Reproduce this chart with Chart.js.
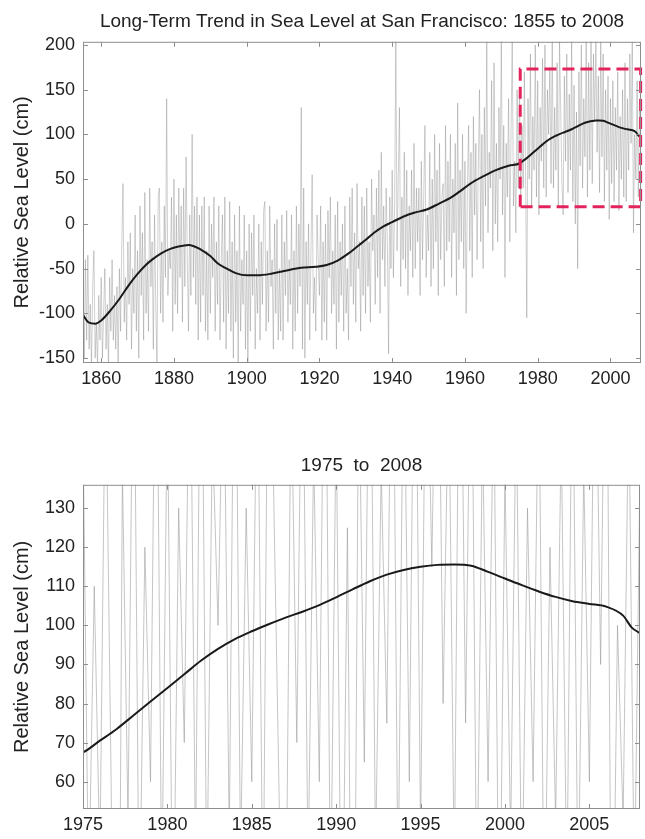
<!DOCTYPE html>
<html>
<head>
<meta charset="utf-8">
<script src="https://cdn.jsdelivr.net/npm/chart.js@4.4.1/dist/chart.umd.min.js"></script>
<style>
  html, body { margin: 0; padding: 0; background: #fff; }
  .panel { position: relative; width: 645px; }
</style>
</head>
<body>
<div class="panel" style="height:400px"><canvas id="longChart"></canvas></div>
<div class="panel" style="height:20px"></div>
<div class="panel" style="height:419px"><canvas id="recentChart"></canvas></div>
<script>
// Gauge readings, three samples a year starting in 1855.
const sampleStart = 1855;
const samplesPerYear = 3;

const seaLevel1855 = [
  -60, -150, -40,   -130, -35, -140,  -90, -160, -70,   -30, -150, -110,  -160, -80, -130,
  -60, -150, -100,  -50, -140, -90,   -160, -60, -120,  -40, -130, -80,   -140, -70, -160,
  -50, -120, -20,   45, -110, -60,    -130, -20, -90,   -10, -140, -50,   -100, 10, -120,
  -30, -150, 20,    -80, -10, -130,   35, -100, -40,    -120, 40, -70,    -20, -140, 10,
  -90, -160, 30,    40, -100, -20,    -110, 20, -60,    140, -80, -30,    -50, 30, -120,
  50, -90, 10,      -100, 40, -60,    20, -110, 40,     -70, 75, -40,     -120, 10, -80,
  100, -60, 20,     -90, 30, -130,    10, -110, 20,     -80, 30, -120,    -30, -130, 20,
  -100, 0, -60,     30, -120, -20,    -90, 20, -130,    -40, 10, -110,    30, -140, -30,
  -100, 25, -120,   -20, -150, 10,    -110, -30, -160,  20, -120, -40,    -90, 10, -140
];
const seaLevel1900 = [
  -30, -160, 0,     -120, -10, -80,   10, -140, -50,    -100, 0, -130,    -20, -90, 15,
  25, -120, -30,    -110, 20, -70,    -40, -140, 0,     -100, 5, -130,    -50, -120, 10,
  -130, -20, -80,   15, -110, -40,    -90, 10, -140,    -30, -120, 20,    -100, 0, -70,
  130, -140, 40,    -150, -20, -90,   0, -130, -30,     55, -100, -60,    -120, 10, -40,
  -80, 20, -130,    -20, -110, 0,     -130, 15, -60,    30, -100, -30,    -90, 10, -140,
  25, -110, -20,    -80, 0, -120,     20, -100, -50,    -130, 30, -70,    40, -90, -10,
  -110, 45, -50,    -20, -120, 30,    -80, 20, -100,    40, -70, -20,     -110, 50, -30,
  10, -90, 40,      -60, 60, -100,    80, -40, 20,      -70, 40, -20,     -145, 30, -50,
  60, -60, 20,      205, -30, 50,     130, -70, 30,     -40, 80, -50,     60, -80, 20,
  -30, 60, -60,     90, -50, 40,      -20, 40, -80,     70, -40, 30,      110, -60, 10
];
const seaLevel1950 = [
  -30, 80, -70,     50, -50, 100,     -20, 60, -80,     90, -40, 30,      45, -70, 110,
  -30, 70, -20,     100, -60, 50,     -10, 90, -80,     135, -40, 60,     -20, 100, -50,
  70, -100, 40,     110, -30, 80,     -60, 120, 10,     90, -40, 60,      150, -20, 100,
  -50, 130, 20,     205, -10, 80,     40, 160, -30,     180, 0, 90,       -20, 130, 50,
  205, 10, 110,     -60, 90, 30,      140, -20, 100,    205, 20, 70,      -10, 150, 40,
  150, 30, 110,     40, 170, 60,      -105, 140, 50,    190, 20, 120,     60, 200, 30,
  160, 10, 130,     70, 185, 40,      200, 30, 150,     100, 175, 45,     205, 40, 130,
  60, 180, 20,      205, 125, 45,     10, 165, 70,      190, 35, 145,     60, 205, 25,
  155, 0, 125,      -50, 170, 65,     200, 40, 140,     75, 205, 30,      180, 60, 205,
  45, 190, 115,     205, 80, 165,     35, 205, 75,      190, 25, 150,     60, 165, 5,
  140, 45, 160,     25, 130, 60,      170, 15, 120,     50, 150, 30,      180, 25, 140,
  60, 190, 90,      205, -10, 100,    50, 160, 30,      140, 80
];

// Smoothed long-term trend (black curve).
const trendYears = [
  1855, 1856.5, 1858.5, 1860, 1862.5, 1865, 1867.5, 1870, 1872, 1874, 1876.5, 1879, 1881, 1884,
  1887.5, 1890, 1892, 1894.5, 1897, 1900, 1903, 1907, 1911, 1915, 1919, 1922, 1925, 1928,
  1930.5, 1933, 1935, 1937.5, 1940, 1943, 1946, 1949.5, 1953, 1956, 1958.5, 1961.5, 1965,
  1968.5, 1972, 1975, 1976, 1977, 1978, 1979, 1980, 1981, 1982, 1983, 1984, 1985, 1986, 1987,
  1988, 1989, 1990, 1991, 1992, 1993, 1994, 1995, 1996, 1997, 1998, 1999, 2000, 2001, 2002,
  2003, 2004, 2005, 2006, 2007, 2007.5, 2008
];
const trendLevel = [
  -102, -110, -111.5, -108, -97, -84, -69, -56, -47, -40, -33, -28, -25.5, -23.5,
  -29, -36, -44, -50, -55, -57.5, -57.5, -55.5, -52, -49, -48, -46, -41, -33,
  -25, -17, -10, -3, 2, 8, 12.5, 16, 23, 29, 36, 45, 53,
  60, 65, 67.5, 70.5, 73.5, 77, 80.5, 84, 87.5, 91, 94, 96.5, 98.5, 100.3, 102,
  103.5, 105.2, 107.2, 109.3, 111.3, 113, 114.2, 115, 115.5, 115.6, 115.3, 113.7, 112, 110.3, 108.7,
  107.3, 106.2, 105.5, 104.8, 102.5, 99.5, 98
];

// Dashed box marking the zoomed period.
const boxYears = [1975.2, 1975.2, 2008.3, 2008.3, 1975.2];
const boxLevel = [19, 173, 173, 19, 19];

const longXTicks = [1860, 1880, 1900, 1920, 1940, 1960, 1980, 2000];
const longYTicks = [-150, -100, -50, 0, 50, 100, 150, 200];
const recentXTicks = [1975, 1980, 1985, 1990, 1995, 2000, 2005];
const recentYTicks = [60, 70, 80, 90, 100, 110, 120, 130];

const seaLevel = seaLevel1855.concat(seaLevel1900, seaLevel1950);
const gaugePoints = seaLevel.map((v, i) => ({ x: sampleStart + i / samplesPerYear, y: v }));
const trendPoints = trendYears.map((yr, i) => ({ x: yr, y: trendLevel[i] }));
const boxPoints = boxYears.map((yr, i) => ({ x: yr, y: boxLevel[i] }));

const fontFamily = "'Liberation Sans', Arial, Helvetica, sans-serif";
const ink = '#222';

// Matlab-like box with small inward ticks.
const framePlugin = {
  id: 'frame',
  afterDatasetsDraw(chart) {
    const { ctx, chartArea: a, scales } = chart;
    ctx.save();
    ctx.strokeStyle = '#8e8e8e';
    ctx.lineWidth = 1;
    ctx.strokeRect(a.left + 0.5, a.top + 0.5, a.right - a.left - 1, a.bottom - a.top - 1);
    ctx.beginPath();
    scales.x.ticks.forEach((t) => {
      const px = Math.round(scales.x.getPixelForValue(t.value)) + 0.5;
      ctx.moveTo(px, a.bottom); ctx.lineTo(px, a.bottom - 5);
      ctx.moveTo(px, a.top); ctx.lineTo(px, a.top + 5);
    });
    scales.y.ticks.forEach((t) => {
      const py = Math.round(scales.y.getPixelForValue(t.value)) + 0.5;
      ctx.moveTo(a.left, py); ctx.lineTo(a.left + 5, py);
      ctx.moveTo(a.right, py); ctx.lineTo(a.right - 5, py);
    });
    ctx.stroke();
    ctx.restore();
  },
};

function buildOptions(cfg) {
  return {
    responsive: true,
    maintainAspectRatio: false,
    animation: false,
    layout: { padding: { left: 0, right: cfg.rightPad, top: 0, bottom: 0 } },
    plugins: {
      legend: { display: false },
      tooltip: { enabled: false },
      title: {
        display: true,
        text: cfg.title,
        fullSize: false,
        color: ink,
        font: { family: fontFamily, size: 19, weight: 'normal' },
        padding: cfg.titlePad,
      },
    },
    scales: {
      x: {
        type: 'linear',
        min: cfg.xMin,
        max: cfg.xMax,
        grid: { display: false, drawTicks: false },
        border: { display: false },
        afterBuildTicks: (scale) => { scale.ticks = cfg.xTicks.map((v) => ({ value: v })); },
        afterFit: (scale) => { scale.height = cfg.xHeight; },
        ticks: {
          color: ink, padding: 5, maxRotation: 0, autoSkip: false,
          font: { family: fontFamily, size: 18 },
          callback: (v) => String(v),
        },
      },
      y: {
        min: cfg.yMin,
        max: cfg.yMax,
        grid: { display: false, drawTicks: false },
        border: { display: false },
        afterBuildTicks: (scale) => { scale.ticks = cfg.yTicks.map((v) => ({ value: v })); },
        afterFit: (scale) => { scale.width = 83; },
        ticks: {
          color: ink, padding: 8,
          font: { family: fontFamily, size: 18 },
          callback: (v) => String(v),
        },
        title: {
          display: true,
          text: 'Relative Sea Level (cm)',
          color: ink,
          font: { family: fontFamily, size: 20 },
          padding: { top: 10, bottom: 0 },
        },
      },
    },
    elements: { point: { radius: 0 } },
  };
}

new Chart(document.getElementById('longChart'), {
  type: 'line',
  data: {
    datasets: [
      { data: boxPoints, borderColor: '#e3245c', borderWidth: 3, borderDash: [12, 6], tension: 0, clip: false, order: 1 },
      { data: trendPoints, borderColor: '#1a1a1a', borderWidth: 2, cubicInterpolationMode: 'monotone', order: 2 },
      { data: gaugePoints, borderColor: 'rgba(120,120,120,0.5)', borderWidth: 0.7, tension: 0, order: 3 },
    ],
  },
  options: buildOptions({
    title: 'Long-Term Trend in Sea Level at San Francisco: 1855 to 2008',
    titlePad: { top: 10, bottom: 9 },
    xMin: 1855, xMax: 2008.4, xTicks: longXTicks, xHeight: 37,
    yMin: -155.5, yMax: 203.5, yTicks: longYTicks, rightPad: 4,
  }),
  plugins: [framePlugin],
});

new Chart(document.getElementById('recentChart'), {
  type: 'line',
  data: {
    datasets: [
      { data: trendPoints, borderColor: '#1a1a1a', borderWidth: 2, cubicInterpolationMode: 'monotone', order: 1 },
      { data: gaugePoints, borderColor: 'rgba(150,150,150,0.7)', borderWidth: 0.8, tension: 0, order: 2 },
    ],
  },
  options: buildOptions({
    title: '1975  to  2008',
    titlePad: { top: 34, bottom: 8 },
    xMin: 1975, xMax: 2008, xTicks: recentXTicks, xHeight: 30,
    yMin: 53, yMax: 136, yTicks: recentYTicks, rightPad: 5,
  }),
  plugins: [framePlugin],
});
</script>
</body>
</html>
